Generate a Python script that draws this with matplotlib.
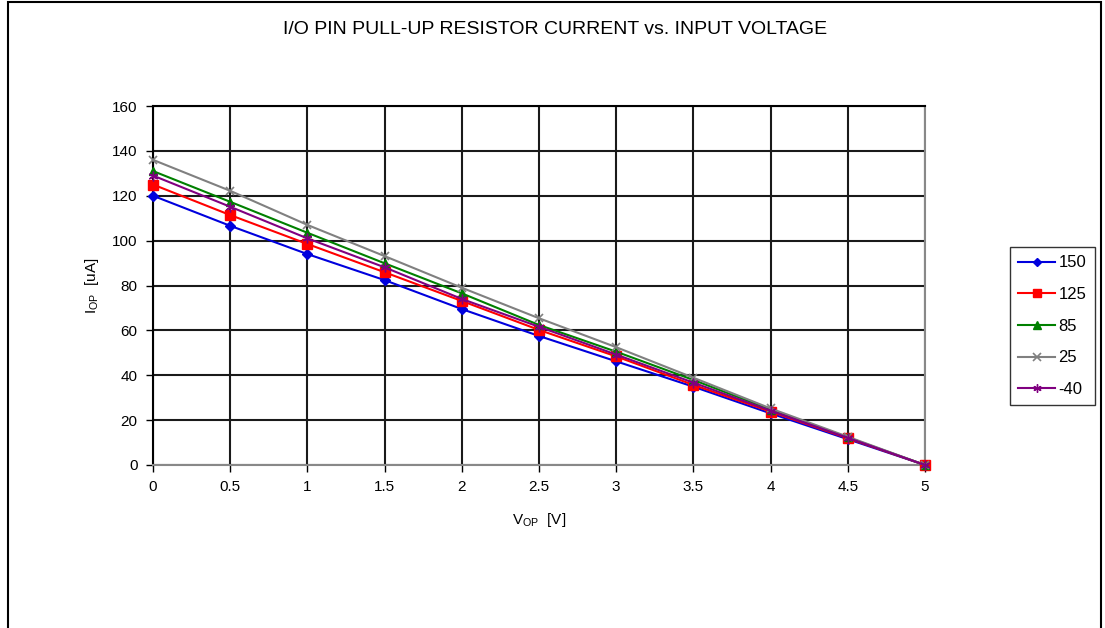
import matplotlib
matplotlib.use("Agg")
import matplotlib.pyplot as plt
from matplotlib.patches import Rectangle

plt.rcParams['font.family'] = ['Liberation Sans', 'DejaVu Sans']
plt.rcParams['mathtext.default'] = 'regular'

voltage = [0, 0.5, 1, 1.5, 2, 2.5, 3, 3.5, 4, 4.5, 5]
series_names = ["150", "125", "85", "25", "-40"]
i_150 = [120, 106.6, 94, 82.4, 69.5, 57.5, 46.2, 34.9, 23.0, 11.5, 0]
i_125 = [125, 111.4, 98.5, 85.9, 73.1, 60.2, 48.4, 35.7, 23.8, 11.9, 0]
i_85 = [131, 117.3, 103.5, 89.9, 76.5, 62.4, 50.5, 37.9, 24.7, 12.3, 0]
i_25 = [136, 122.2, 107, 93.1, 79.0, 65.4, 52.5, 38.9, 25.2, 12.6, 0]
i_m40 = [129, 115.1, 101, 88.1, 74.0, 61.6, 49.2, 36.7, 24.2, 12.1, 0]
series = [i_150, i_125, i_85, i_25, i_m40]
colors = ['#0000DD', '#FF0000', '#008000', '#808080', '#800080']
markers = ['D', 's', '^', 'x', (6, 2, 0)]
msizes = [5, 7, 6, 6, 7]

fig = plt.figure(figsize=(11.05, 6.28), dpi=100)
fig.patches.append(Rectangle((8/1105, -0.1), (1101-8)/1105, 1.1 - 2/628,
                             transform=fig.transFigure, fill=False,
                             edgecolor='black', linewidth=1.5))

ax = fig.add_axes([153/1105, (628-465)/628, (925-153)/1105, (465-106)/628])

for y, name, c, m, ms in zip(series, series_names, colors, markers, msizes):
    ax.plot(voltage, y, color=c, marker=m, markersize=ms, linewidth=1.5,
            label=name, markeredgewidth=1.2 if m in ('x',) else 1.0, clip_on=False, zorder=3)

ax.set_xlim(0, 5)
ax.set_ylim(0, 160)
ax.set_xticks([0, 0.5, 1, 1.5, 2, 2.5, 3, 3.5, 4, 4.5, 5])
ax.set_xticklabels(["0", "0.5", "1", "1.5", "2", "2.5", "3", "3.5", "4", "4.5", "5"])
ax.set_yticks(range(0, 161, 20))
ax.grid(True, color='#1a1a1a', linewidth=1.5)
ax.set_axisbelow(True)
ax.tick_params(direction='out', length=5, width=1, labelsize=11, colors='black', pad=6)
for s in ['left', 'top']:
    ax.spines[s].set_color('black')
    ax.spines[s].set_linewidth(1.5)
for s in ['right', 'bottom']:
    ax.spines[s].set_color('#888888')
    ax.spines[s].set_linewidth(1.5)

ax.set_xlabel(r'V$_{OP}$  [V]', fontsize=11, labelpad=12)
ax.set_ylabel(r'I$_{OP}$  [uA]', fontsize=11, labelpad=8)

fig.text(555/1105, 1 - 30/628, 'I/O PIN PULL-UP RESISTOR CURRENT vs. INPUT VOLTAGE',
         ha='center', va='center', fontsize=14)

leg = ax.legend(loc='upper left', bbox_to_anchor=(1010/1105, 1 - 247/628),
                bbox_transform=fig.transFigure, frameon=True, fancybox=False,
                edgecolor='black', fontsize=12, handlelength=2.2,
                labelspacing=1.0, borderpad=0.5, handletextpad=0.2,
                borderaxespad=0.0, markerscale=0.85)
leg.get_frame().set_linewidth(1.0)

fig.savefig('out.png', dpi=100, facecolor='white')
